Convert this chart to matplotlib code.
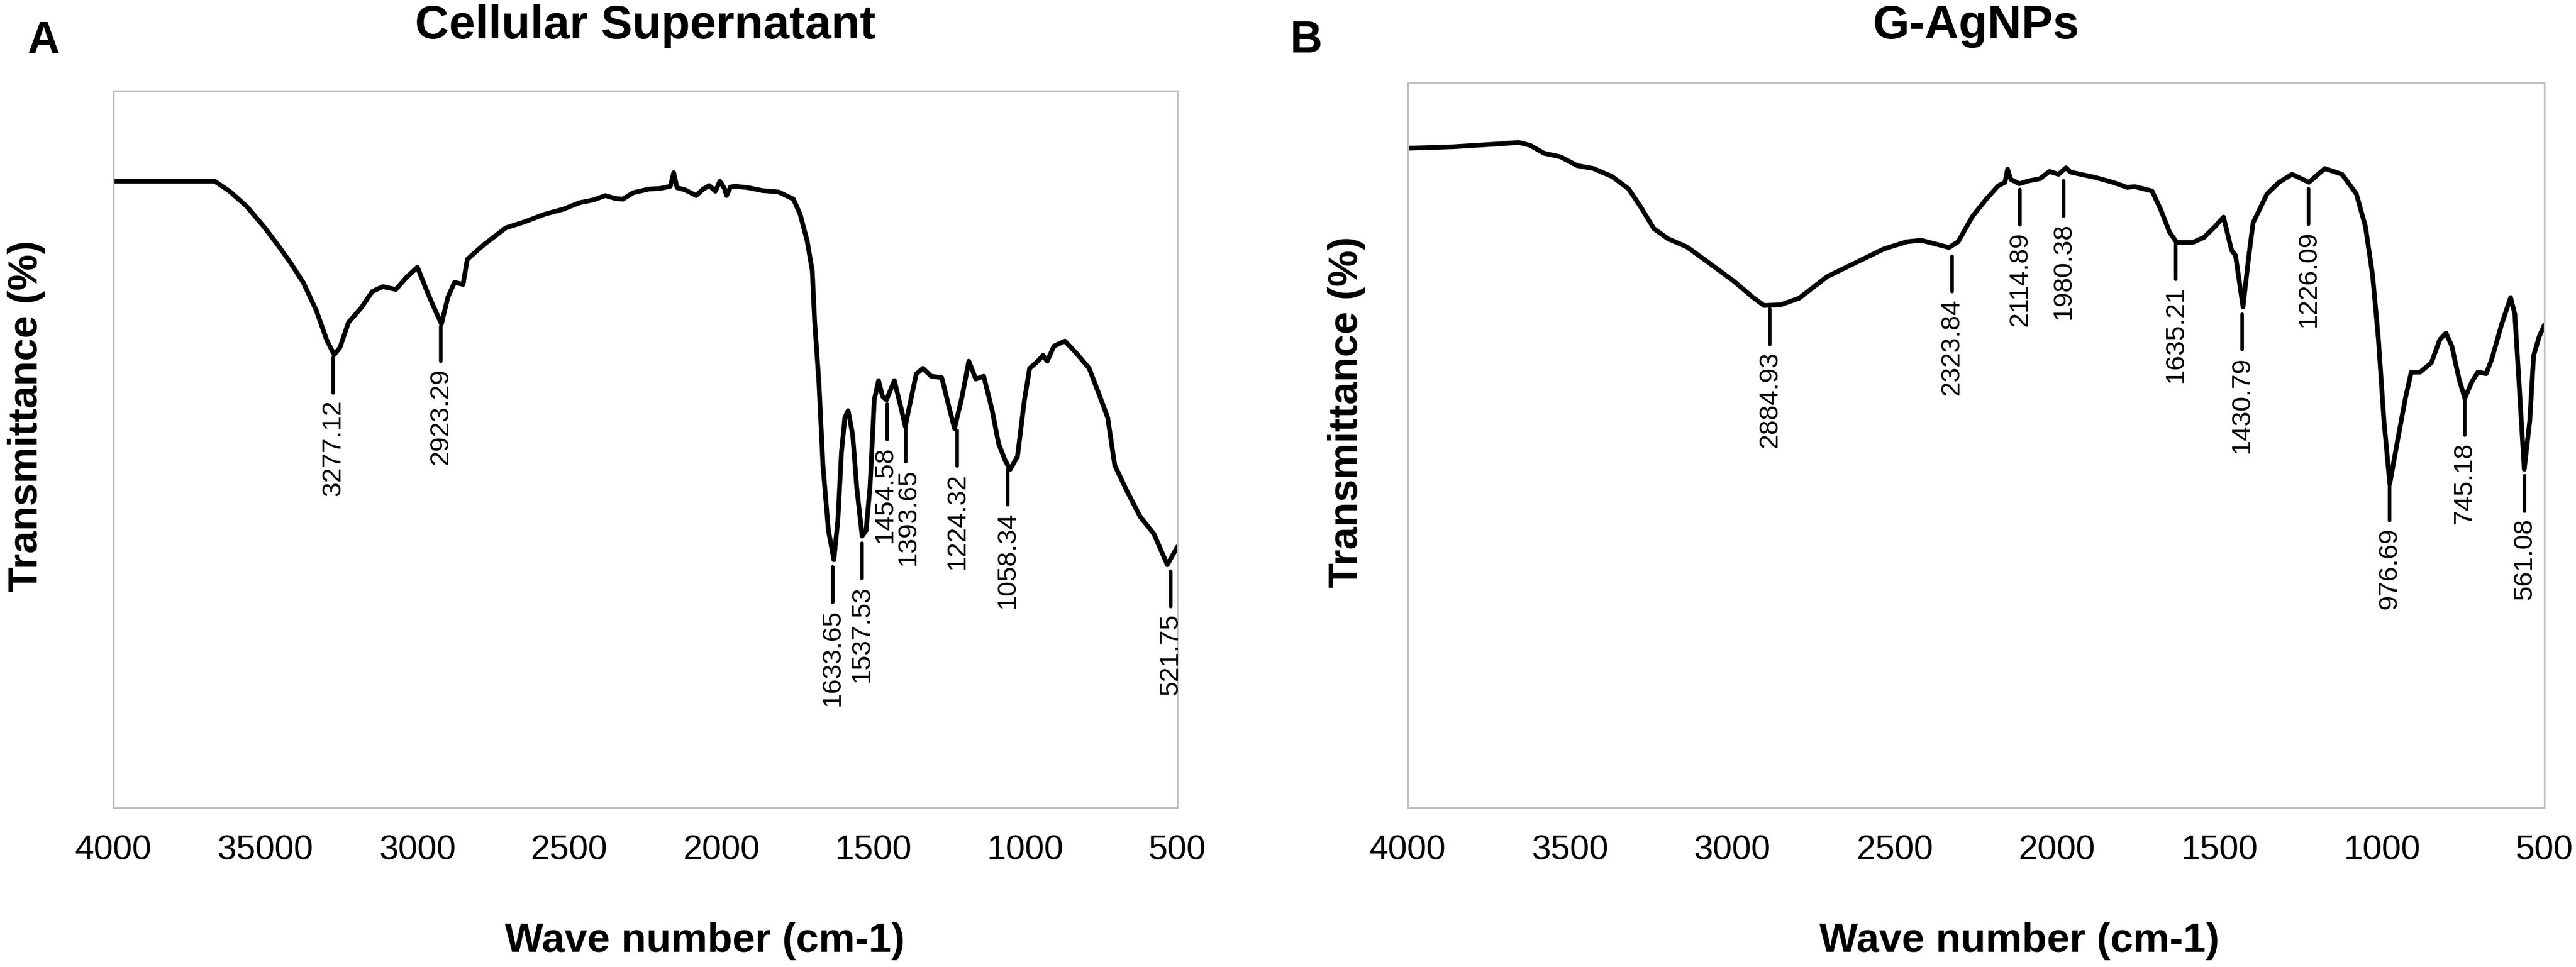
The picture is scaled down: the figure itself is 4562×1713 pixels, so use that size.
import matplotlib
matplotlib.use('Agg')
import matplotlib.pyplot as plt

plt.rcParams['font.family'] = ['Liberation Sans', 'DejaVu Sans']

# ---------------- data ----------------
# panel A : cellular supernatant (wave number, transmittance in arbitrary %)
wn_a = [
    4000, 3667, 3618, 3562, 3504, 3461, 3419, 3376, 3333, 3298,
    3274, 3255, 3227, 3184, 3149, 3114, 3071, 3036, 3000, 2971,
    2950, 2921, 2900, 2878, 2850, 2836, 2780, 2709, 2650, 2581,
    2520, 2467, 2420, 2382, 2350, 2324, 2290, 2239, 2200, 2168,
    2157, 2146, 2120, 2083, 2060, 2040, 2020, 2005, 1990, 1983,
    1970, 1955, 1912, 1866, 1812, 1763, 1741, 1718, 1701, 1693,
    1679, 1666, 1648, 1630, 1617, 1605, 1594, 1583, 1568, 1555,
    1537, 1524, 1511, 1497, 1483, 1470, 1457, 1431, 1408, 1395,
    1377, 1359, 1337, 1310, 1275, 1253, 1233, 1208, 1186, 1163,
    1137, 1110, 1088, 1066, 1050, 1026, 1003, 986, 959, 942,
    928, 906, 870, 834, 790, 755, 729, 706, 666, 622,
    577, 533, 500]
t_a = [
    87.4, 87.4, 86.0, 83.9, 81.0, 78.6, 76.1, 73.3, 69.4, 65.2,
    63.2, 64.2, 67.7, 69.8, 72.0, 72.7, 72.3, 74.0, 75.4, 72.3,
    70.2, 67.5, 71.2, 73.3, 73.0, 76.5, 78.6, 80.9, 81.7, 82.8,
    83.5, 84.4, 84.8, 85.4, 85.0, 84.9, 85.8, 86.3, 86.4, 86.7,
    88.6, 86.5, 86.2, 85.4, 86.3, 86.8, 86.0, 87.4, 86.4, 85.4,
    86.6, 86.7, 86.5, 86.1, 85.9, 84.9, 82.8, 79.1, 74.9, 67.7,
    59.2, 47.8, 38.7, 34.6, 40.0, 49.6, 54.4, 55.4, 52.0, 44.8,
    37.9, 38.7, 44.8, 56.9, 59.6, 57.4, 56.9, 59.6, 55.6, 53.2,
    56.9, 60.5, 61.3, 60.2, 60.0, 56.2, 52.9, 57.4, 62.3, 59.8,
    60.2, 55.6, 50.8, 48.4, 47.2, 49.0, 56.9, 61.3, 62.3, 63.1,
    62.3, 64.4, 65.1, 63.5, 61.3, 57.4, 54.4, 47.8, 44.2, 40.6,
    38.2, 33.9, 36.4]

# panel B : G-AgNPs
wn_b = [
    4000, 3861, 3717, 3659, 3623, 3580, 3529, 3478, 3428, 3371,
    3320, 3284, 3242, 3198, 3141, 3082, 2997, 2939, 2903, 2852,
    2795, 2708, 2621, 2534, 2463, 2419, 2376, 2333, 2305, 2261,
    2218, 2182, 2161, 2153, 2143, 2117, 2087, 2053, 2024, 1996,
    1973, 1959, 1886, 1829, 1785, 1761, 1708, 1681, 1654, 1632,
    1583, 1548, 1514, 1488, 1474, 1463, 1451, 1428, 1411, 1397,
    1354, 1317, 1277, 1225, 1176, 1123, 1079, 1051, 1029, 1011,
    994, 976, 950, 928, 910, 883, 848, 822, 803, 785,
    763, 745, 723, 705, 679, 662, 631, 604, 591, 577,
    562, 545, 533, 516, 500]
t_b = [
    91.0, 91.2, 91.6, 91.8, 91.4, 90.3, 89.8, 88.6, 88.2, 87.1,
    85.4, 83.0, 79.9, 78.5, 77.4, 75.5, 72.7, 70.5, 69.3, 69.4,
    70.3, 73.3, 75.2, 77.1, 78.1, 78.3, 77.8, 77.3, 78.1, 81.6,
    84.0, 85.8, 86.3, 88.1, 86.7, 86.1, 86.5, 86.8, 87.8, 87.4,
    88.3, 87.7, 87.0, 86.3, 85.6, 85.7, 85.1, 82.5, 79.4, 78.0,
    78.0, 78.7, 80.2, 81.5, 78.9, 76.9, 76.2, 69.1, 75.8, 80.7,
    84.7, 86.3, 87.4, 86.3, 88.2, 87.4, 84.7, 80.2, 73.5, 64.6,
    53.4, 44.7, 51.2, 56.5, 60.1, 60.1, 61.4, 64.6, 65.5, 63.7,
    59.2, 56.5, 58.8, 60.1, 59.9, 61.9, 66.8, 70.4, 68.1, 57.9,
    46.7, 53.4, 62.4, 65.0, 66.6]

# labelled bands (wave number, y where the marker line starts)
peaks_a = [3277.12, 2923.29, 1633.65, 1537.53, 1454.58, 1393.65, 1224.32, 1058.34, 521.75]
peak_y_a = [62.8, 67.2, 33.6, 36.9, 56.3, 53.2, 52.6, 47.2, 33.0]

peaks_b = [2884.93, 2323.84, 2114.89, 1980.38, 1635.21, 1430.79, 1226.09, 976.69, 745.18, 561.08]
peak_y_b = [68.8, 76.1, 85.3, 86.5, 77.8, 68.1, 85.4, 44.5, 56.3, 45.8]

ticks = [4000, 3500, 3000, 2500, 2000, 1500, 1000, 500]
tick_labels_a = ['4000', '35000', '3000', '2500', '2000', '1500', '1000', '500']
tick_labels_b = ['4000', '3500', '3000', '2500', '2000', '1500', '1000', '500']

# two labels sit almost on top of each other, push them apart a little (points)
label_nudge = {1454.58: -3, 1393.65: 3}

# ---------------- figure ----------------
W, H = 4562, 1713
fig = plt.figure(figsize=(W / 100, H / 100), dpi=100)

ax_a = fig.add_axes([201 / W, 1 - 1431 / H, 1884 / W, 1270 / H])
ax_b = fig.add_axes([2493 / W, 1 - 1431 / H, 2013 / W, 1284 / H])


def draw_panel(ax, wn, t, peaks, peak_y, tick_labels):
    ax.plot(wn, t, color='black', lw=6, solid_joinstyle='round', solid_capstyle='round')
    ax.set_xlim(4000, 500)
    ax.set_ylim(0, 100)
    ax.set_xticks(ticks)
    ax.set_xticklabels(tick_labels)
    ax.set_yticks([])
    ax.tick_params(axis='x', length=0, pad=34, labelsize=44)
    for s in ax.spines.values():
        s.set_color('#c0c0c0')
        s.set_linewidth(2.2)
    for x, y in zip(peaks, peak_y):
        ax.annotate('', xy=(x, y), xytext=(0, -45), textcoords='offset points',
                    arrowprops=dict(arrowstyle='-', lw=4.6, color='black',
                                    shrinkA=0, shrinkB=0))
        ax.annotate(f'{x:.2f}', xy=(x, y), xytext=(label_nudge.get(x, 0), -54),
                    textcoords='offset points',
                    rotation=90, ha='center', va='top', fontsize=34)


draw_panel(ax_a, wn_a, t_a, peaks_a, peak_y_a, tick_labels_a)
draw_panel(ax_b, wn_b, t_b, peaks_b, peak_y_b, tick_labels_b)

# titles, panel letters, axis labels
fig.text(1143 / W, 1 - 68 / H, 'Cellular Supernatant', ha='center', va='baseline',
         fontsize=60, weight='bold')
fig.text(3500 / W, 1 - 68 / H, 'G-AgNPs', ha='center', va='baseline',
         fontsize=60, weight='bold')
fig.text(48 / W, 1 - 94 / H, 'A', ha='left', va='baseline', fontsize=57, weight='bold')
fig.text(2285 / W, 1 - 93 / H, 'B', ha='left', va='baseline', fontsize=57, weight='bold')

fig.text(1248 / W, 1 - 1686 / H, 'Wave number (cm-1)', ha='center', va='baseline',
         fontsize=52, weight='bold')
fig.text(3576 / W, 1 - 1686 / H, 'Wave number (cm-1)', ha='center', va='baseline',
         fontsize=52, weight='bold')
fig.text(47 / W, 1 - 737 / H, 'Transmittance (%)', rotation=90, ha='center', va='center',
         fontsize=52, weight='bold')
fig.text(2385 / W, 1 - 730 / H, 'Transmittance (%)', rotation=90, ha='center', va='center',
         fontsize=52, weight='bold')

fig.savefig('out.png', dpi=100)
